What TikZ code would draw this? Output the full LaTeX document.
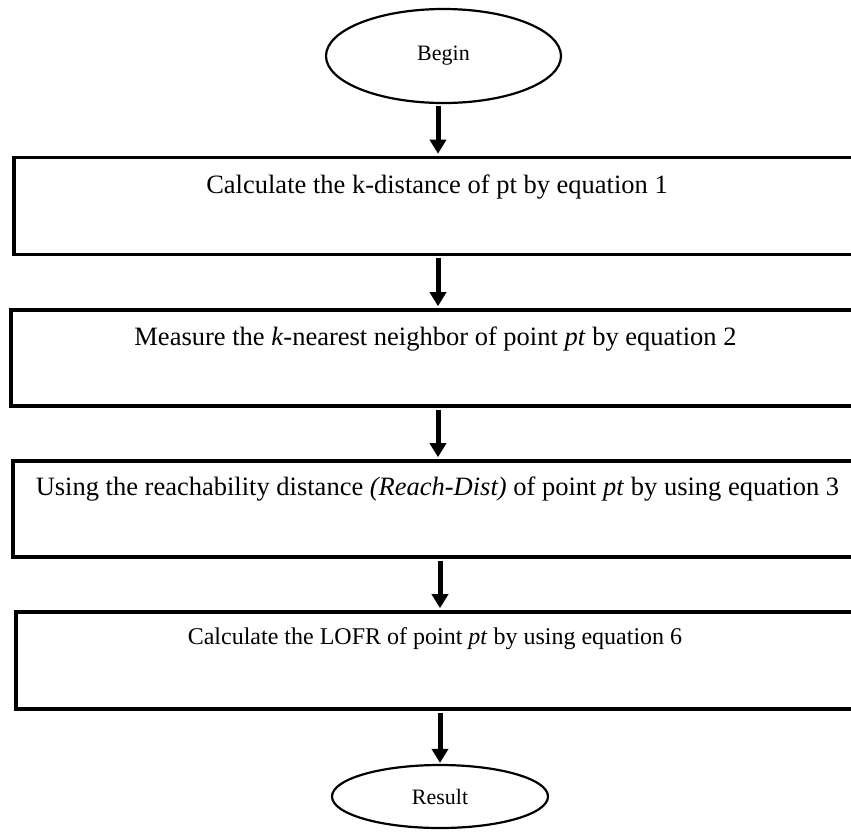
\documentclass[tikz,border=0pt]{standalone}
\usepackage{fontspec}
\setmainfont{Liberation Serif}
\usetikzlibrary{arrows.meta,shapes.geometric}
\begin{document}
\begin{tikzpicture}[x=1pt,y=-1pt,
  terminal/.style={ellipse,draw,line width=2.2pt,inner sep=0pt,font=\fontsize{22}{26}\selectfont},
  stepbox/.style={rectangle,draw,line width=3.6pt,inner sep=0pt},
  steptext/.style={anchor=base,inner sep=0pt,font=\fontsize{26.5}{30}\selectfont},
  flow/.style={line width=5pt,-{Triangle[length=14pt,width=16pt]}}]
\useasboundingbox (0,0) rectangle (851,831);

% start and end terminals
\node[terminal,minimum width=235pt,minimum height=94pt] (begin) at (443.5,56) {\raisebox{6pt}{Begin}};
\node[terminal,minimum width=216pt,minimum height=63pt] (result) at (440,796.5) {Result};

% process boxes (running off the right-hand edge)
\node[stepbox,minimum width=846pt,minimum height=97pt] (s1) at (437,206) {};
\node[stepbox,minimum width=849pt,minimum height=96pt] (s2) at (435.5,358) {};
\node[stepbox,minimum width=849pt,minimum height=96pt] (s3) at (437.5,509) {};
\node[stepbox,minimum width=844pt,minimum height=97pt] (s4) at (438,660.5) {};

% box captions
\node[steptext] (t1) at (437,193) {Calculate the k-distance of pt by equation 1};
\node[steptext] (t2) at (435.5,345) {Measure the \textit{k}-nearest neighbor of point \textit{pt} by equation 2};
\node[steptext] (t3) at (437.5,495) {Using the reachability distance \textit{(Reach-Dist)} of point \textit{pt} by using equation 3};
\node[steptext,font=\fontsize{24}{28}\selectfont] (t4) at (435,644) {Calculate the LOFR of point \textit{pt} by using equation 6};

% connectors
\draw[flow] ([xshift=-5.5pt,yshift=-1.5pt]begin.south) -- ([xshift=1pt,yshift=2pt]s1.north);
\draw[flow] ([xshift=1pt,yshift=-1.8pt]s1.south) -- ([xshift=2.5pt,yshift=2pt]s2.north);
\draw[flow] ([xshift=2.5pt,yshift=-2pt]s2.south) -- ([xshift=0.5pt,yshift=2pt]s3.north);
\draw[flow] ([xshift=2.5pt,yshift=-2pt]s3.south) -- ([xshift=2pt,yshift=2pt]s4.north);
\draw[flow] ([xshift=2pt,yshift=-2pt]s4.south) -- ([yshift=1pt]result.north);
\end{tikzpicture}
\end{document}
